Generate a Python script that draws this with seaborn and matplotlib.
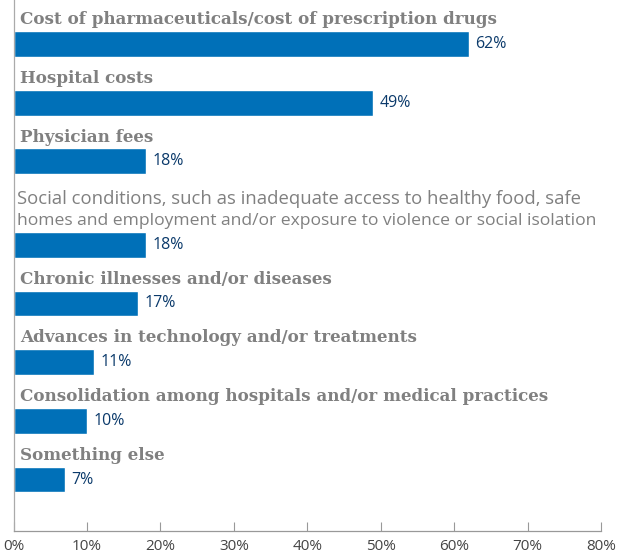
import matplotlib
matplotlib.use("Agg")
import matplotlib.pyplot as plt
import seaborn as sns
import pandas as pd
import numpy as np

categories = [
    "Cost of pharmaceuticals/cost of prescription drugs",
    "Hospital costs",
    "Physician fees",
    "Social conditions, such as inadequate access to healthy food, safe\nhomes and employment and/or exposure to violence or social isolation",
    "Chronic illnesses and/or diseases",
    "Advances in technology and/or treatments",
    "Consolidation among hospitals and/or medical practices",
    "Something else",
]
values = [62, 49, 18, 18, 17, 11, 10, 7]
tick_values = [0, 10, 20, 30, 40, 50, 60, 70, 80]
tick_labels = ["0%", "10%", "20%", "30%", "40%", "50%", "60%", "70%", "80%"]

BAR_BLUE = "#0070b8"
LABEL_GREY = "#808080"
VALUE_BLUE = "#0b3a6b"

sns.set_theme(style="white")

# vertical slot per row: extra room for labels wrapping onto a second line
extra = np.cumsum([c.count("\n") * 0.42 for c in categories])
positions = np.arange(len(categories)) + extra

df = pd.DataFrame({"category": categories, "value": values, "pos": positions})

fig = plt.figure(figsize=(6.29, 5.55), dpi=100)
ax = fig.add_axes([13.5 / 629, 1 - 531 / 555, (601 - 13.5) / 629, 531 / 555])

sns.barplot(data=df, x="value", y="pos", orient="h", native_scale=True,
            color=BAR_BLUE, saturation=1, width=0.44, ax=ax)

ax.set_xlim(0, 80)
ax.set_ylim(positions[-1] + 0.877, -0.75)

sans = ["Open Sans", "DejaVu Sans"]
for cat, val, p in zip(categories, values, positions):
    if "\n" in cat:
        # two-line label: second line set slightly tighter
        first, second = cat.split("\n")
        ax.text(0.45, p - 0.27, second, ha="left", va="bottom", color=LABEL_GREY,
                fontsize=12.6, family=sans)
        ax.text(0.45, p - 0.62, first, ha="left", va="bottom", color=LABEL_GREY,
                fontsize=13.3, family=sans)
    else:
        ax.text(0.9, p - 0.27, cat, ha="left", va="bottom", color=LABEL_GREY,
                fontsize=12.1, family=["DejaVu Serif"], fontweight="bold")
    ax.text(val + 0.9, p, f"{val}%", ha="left", va="center", color=VALUE_BLUE,
            fontsize=11.5, family=sans)

ax.set_xticks(tick_values)
ax.set_xticklabels(tick_labels, fontsize=11, color="#444444", family=sans)
ax.set_yticks([])
ax.set_xlabel("")
ax.set_ylabel("")
ax.tick_params(axis="x", direction="in", length=6.5, width=0.8, color="#999999",
               bottom=True, pad=6)

ax.spines["top"].set_visible(False)
ax.spines["right"].set_visible(False)
ax.spines["left"].set_color("#aaaaaa")
ax.spines["bottom"].set_color("#999999")
ax.spines["left"].set_linewidth(0.9)
ax.spines["bottom"].set_linewidth(0.9)

fig.savefig("out.png", dpi=100)
